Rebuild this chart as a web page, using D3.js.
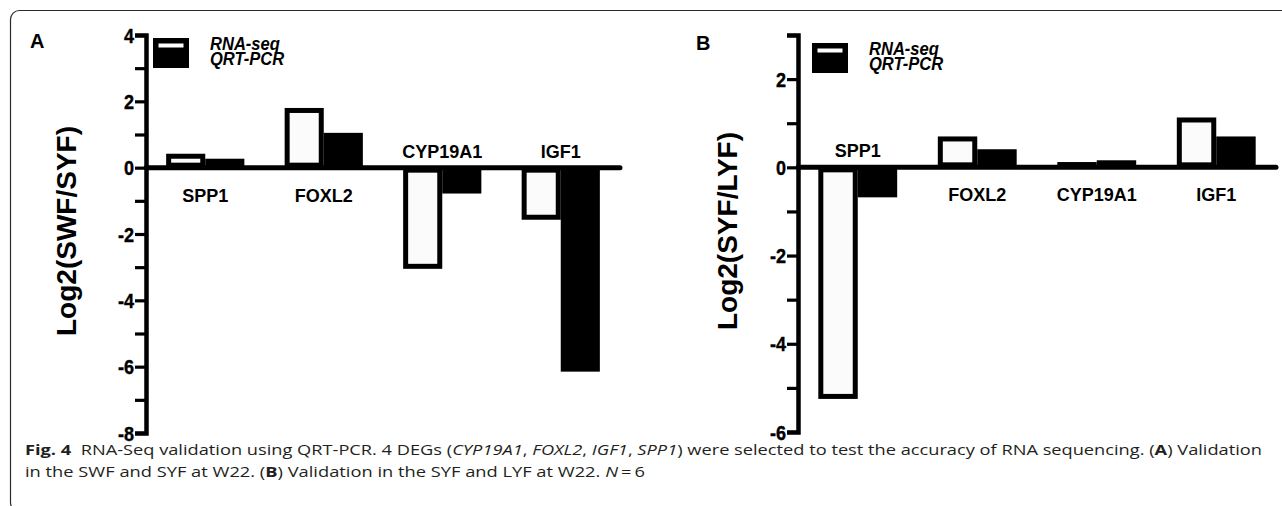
<!DOCTYPE html>
<html><head><meta charset="utf-8">
<script src="https://cdn.jsdelivr.net/npm/d3@7"></script>
<style>body{margin:0;background:#fff;} svg{display:block;}</style>
</head><body>
<svg id="c" width="1282" height="506"></svg>
<script>
// ---- data ----
const genesA = ["SPP1", "FOXL2", "CYP19A1", "IGF1"];
const rnaSeqA = [0.42, 1.8, -3.05, -1.57];
const qrtPcrA = [0.27, 1.05, -0.78, -6.15];
const genesB = ["SPP1", "FOXL2", "CYP19A1", "IGF1"];
const rnaSeqB = [-5.25, 0.7, 0.12, 1.13];
const qrtPcrB = [-0.68, 0.41, 0.16, 0.7];
const seriesNames = ["RNA-seq", "QRT-PCR"];
const ticksA = [4, 3, 2, 1, 0, -1, -2, -3, -4, -5, -6, -7, -8];
const tickLabelsA = ["4", "2", "0", "-2", "-4", "-6", "-8"];
const ticksB = [3, 2, 1, 0, -1, -2, -3, -4, -5, -6];
const tickLabelsB = ["2", "0", "-2", "-4", "-6"];
const titleA = "Log2(SWF/SYF)";
const titleB = "Log2(SYF/LYF)";

const svg = d3.select("#c");
const FONT = "'Liberation Sans', Arial, sans-serif";

// frame
svg.append("rect").attr("x", 10.5).attr("y", 10.5).attr("width", 1320).attr("height", 501)
  .attr("rx", 9).attr("fill", "none").attr("stroke", "#2a2a2a").attr("stroke-width", 1.2);

function panel(o) {
  const g = svg.append("g");
  const x = d3.scaleBand().domain(o.genes).range(o.xRange).paddingInner(0.34).paddingOuter(0.17);
  const xs = d3.scaleBand().domain(seriesNames).range([0, x.bandwidth()]);
  const y = d3.scaleLinear().domain(o.yDomain).range(o.yRange);
  const y0 = y(0);
  const sw = 5;

  // y axis (lines from d3 axis, labels drawn separately)
  const ax = g.append("g").attr("transform", `translate(${o.xRange[0]},0)`)
    .call(d3.axisLeft(y).tickValues(o.ticks).tickSize(11).tickSizeOuter(11).tickFormat(""));
  ax.select(".domain").attr("stroke", "#000").attr("stroke-width", 4.5).attr("fill", "none");
  ax.selectAll(".tick line").attr("stroke", "#000").attr("stroke-width", 3.2);
  ax.selectAll(".tick text").remove();

  g.selectAll(".ylab").data(o.tickLabels).join("text").attr("class", "ylab")
    .attr("transform", d => `translate(${o.xRange[0] - 12},${y(+d)}) scale(0.86,1)`)
    .attr("dy", "0.36em").attr("text-anchor", "end")
    .attr("font-family", FONT).attr("font-weight", "bold").attr("font-size", 21)
    .attr("stroke", "#000").attr("stroke-width", 0.4)
    .attr("fill", "#000").text(d => d);

  // bars
  const rows = o.genes.map((gname, i) => ({ gene: gname, vals: [o.rna[i], o.qrt[i]] }));
  rows.forEach(r => {
    r.vals.forEach((v, k) => {
      const x0 = x(r.gene) + xs(seriesNames[k]);
      const w = xs.bandwidth();
      const top = Math.min(y(v), y0), bot = Math.max(y(v), y0);
      if (k === 0) {
        g.append("rect").attr("x", x0 + sw / 2).attr("y", top + sw / 2)
          .attr("width", w - sw).attr("height", Math.max(0, bot - top - sw))
          .attr("fill", "#fbfbfb").attr("stroke", "#000").attr("stroke-width", sw);
      } else {
        g.append("rect").attr("x", x0).attr("y", top).attr("width", w).attr("height", bot - top)
          .attr("fill", "#000");
      }
    });
  });

  // zero line
  g.append("line").attr("x1", o.xRange[0]).attr("x2", o.xRange[1]).attr("y1", y0).attr("y2", y0)
    .attr("stroke", "#000").attr("stroke-width", 5).attr("stroke-linecap", "round");

  // category labels
  rows.forEach(r => {
    const neg = r.vals[0] < 0;
    g.append("text").attr("x", x(r.gene) + x.bandwidth() / 2)
      .attr("y", neg ? y0 - 10 : y0 + 34)
      .attr("text-anchor", "middle").attr("font-family", FONT).attr("font-weight", "bold")
      .attr("font-size", 18).attr("fill", "#000").text(r.gene);
  });

  // y title
  g.append("text").attr("transform", `translate(${o.titleX},${o.titleY}) rotate(-90)`)
    .attr("text-anchor", "middle").attr("dy", "0.35em")
    .attr("font-family", FONT).attr("font-weight", "bold").attr("font-size", 28)
    .attr("fill", "#000").text(o.title);

  // legend
  seriesNames.forEach((s, k) => {
    const ly = o.legY + k * 15;
    if (k === 0) {
      g.append("rect").attr("x", o.legX + 2.75).attr("y", ly + 2.75).attr("width", 36 - 5.5)
        .attr("height", 15 - 5.5).attr("fill", "#fff").attr("stroke", "#000").attr("stroke-width", 5.5);
    } else {
      g.append("rect").attr("x", o.legX).attr("y", ly).attr("width", 36).attr("height", 15).attr("fill", "#000");
    }
    g.append("text").attr("transform", `translate(${o.legX + 57},${ly + 12}) scale(0.92,1)`)
      .attr("font-family", FONT).attr("font-weight", "bold").attr("font-style", "italic")
      .attr("font-size", 18).attr("fill", "#000").text(s);
  });

  // panel letter
  g.append("text").attr("x", o.letterX).attr("y", o.letterY).attr("font-family", FONT)
    .attr("font-weight", "bold").attr("font-size", 20).attr("fill", "#000").text(o.letter);
}

panel({ genes: genesA, rna: rnaSeqA, qrt: qrtPcrA, ticks: ticksA, tickLabels: tickLabelsA, title: titleA,
  xRange: [146, 620], yDomain: [-8, 4], yRange: [433, 35],
  titleX: 66, titleY: 231, legX: 153, legY: 38, letter: "A", letterX: 30, letterY: 48 });
panel({ genes: genesB, rna: rnaSeqB, qrt: qrtPcrB, ticks: ticksB, tickLabels: tickLabelsB, title: titleB,
  xRange: [798, 1276], yDomain: [-6, 3], yRange: [432, 35],
  titleX: 727, titleY: 231, legX: 812, legY: 43, letter: "B", letterX: 696, letterY: 50 });

// caption
const cap = svg.append("g").attr("font-family", "'Open Sans', 'Noto Sans', sans-serif")
  .attr("font-size", 14.5).attr("fill", "#231f20");
const line1 = [
  ["Fig. 4", "b"], ["  RNA-Seq validation using QRT-PCR. 4 DEGs (", ""], ["CYP19A1", "i"], [", ", ""],
  ["FOXL2", "i"], [", ", ""], ["IGF1", "i"], [", ", ""], ["SPP1", "i"],
  [") were selected to test the accuracy of RNA sequencing. (", ""], ["A", "b"], [") Validation", ""]
];
const line2 = [
  ["in the SWF and SYF at W22. (", ""], ["B", "b"], [") Validation in the SYF and LYF at W22. ", ""],
  ["N", "i"], ["\u2009=\u20096", ""]
];
function capLine(parts, yy, len) {
  const t = cap.append("text").attr("x", 25).attr("y", yy).attr("xml:space", "preserve")
    .style("white-space", "pre").attr("textLength", len).attr("lengthAdjust", "spacingAndGlyphs");
  parts.forEach(([s, f]) => {
    const ts = t.append("tspan").text(s);
    if (f === "b") ts.attr("font-weight", "bold");
    if (f === "i") ts.attr("font-style", "italic");
  });
}
capLine(line1, 455, 1237);
capLine(line2, 477, 620);
</script>
</body></html>
